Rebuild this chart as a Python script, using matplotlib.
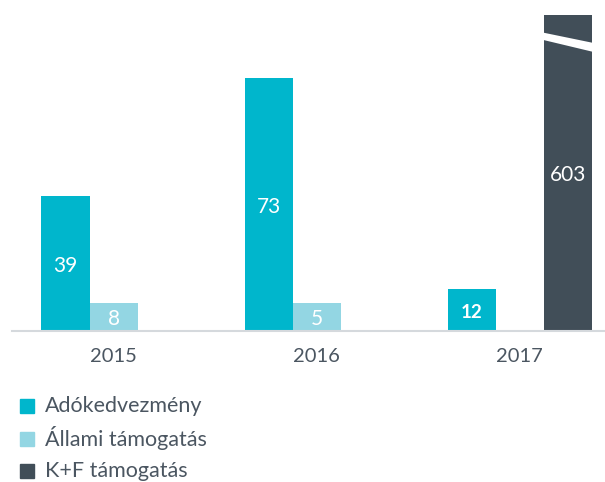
import numpy as np
import matplotlib.pyplot as plt
from matplotlib.patches import Polygon

plt.rcParams['font.family'] = ['Lato', 'DejaVu Sans']

# Data
years = ['2015', '2016', '2017']
series = ['Adókedvezmény', 'Állami támogatás', 'K+F támogatás']
adokedvezmeny = [39, 73, 12]
allami = [8, 5, 0]
kf = [0, 0, 603]
colors = ['#00b6cc', '#93d6e3', '#414e58']
text_col = '#4b5661'

W, H = 605, 482
fig = plt.figure(figsize=(W / 100, H / 100), dpi=100)
ax = fig.add_axes([12 / W, (H - 331) / H, (605 - 12) / W, (331 - 15) / H])

ymax = 91.3
ax.set_xlim(-0.5, 2.42)
ax.set_ylim(0, ymax)
w = 0.2365
x = np.arange(len(years))
min_show = 8  # small bars shown with minimum height so label fits

for k, vals in enumerate([adokedvezmeny, allami, kf]):
    for i, v in enumerate(vals):
        if v <= 0:
            continue
        xc = x[i] + (k - 1) * w
        h = max(v, min_show)
        ax.bar(xc, h, width=w, color=colors[k], linewidth=0)
        ytxt = min(h, ymax) / 2
        weight = 'bold' if v == 12 else 'normal'
        fs = 13.5 if v == 12 else 15
        ax.text(xc, ytxt - 0.6, str(v), ha='center', va='center', color='white',
                fontsize=fs, fontweight=weight)
        if v > ymax:
            # axis break marker
            x0, x1 = xc - w / 2 - 0.01, xc + w / 2 + 0.01
            poly = Polygon([(x0, 86.3), (x1, 83.2), (x1, 80.6), (x0, 84.2)],
                           closed=True, facecolor='white', edgecolor='none')
            ax.add_patch(poly)

ax.set_xticks(x)
ax.set_xticklabels(years, fontsize=14.5, color=text_col)
ax.tick_params(axis='x', length=0, pad=12)
ax.set_yticks([])
for s in ['top', 'right', 'left']:
    ax.spines[s].set_visible(False)
ax.spines['bottom'].set_color('#d5d9dd')
ax.spines['bottom'].set_linewidth(1.5)

# Legend
for j, name in enumerate(series):
    yy = 406 + j * 32.5
    fig.patches.append(plt.Rectangle((20 / W, 1 - (yy + 7) / H), 14 / W, 14 / H,
                                     transform=fig.transFigure, color=colors[j]))
    fig.text(45 / W, 1 - yy / H, name, fontsize=15.5, color=text_col,
             va='center', ha='left')

fig.savefig('out.png', dpi=100)
